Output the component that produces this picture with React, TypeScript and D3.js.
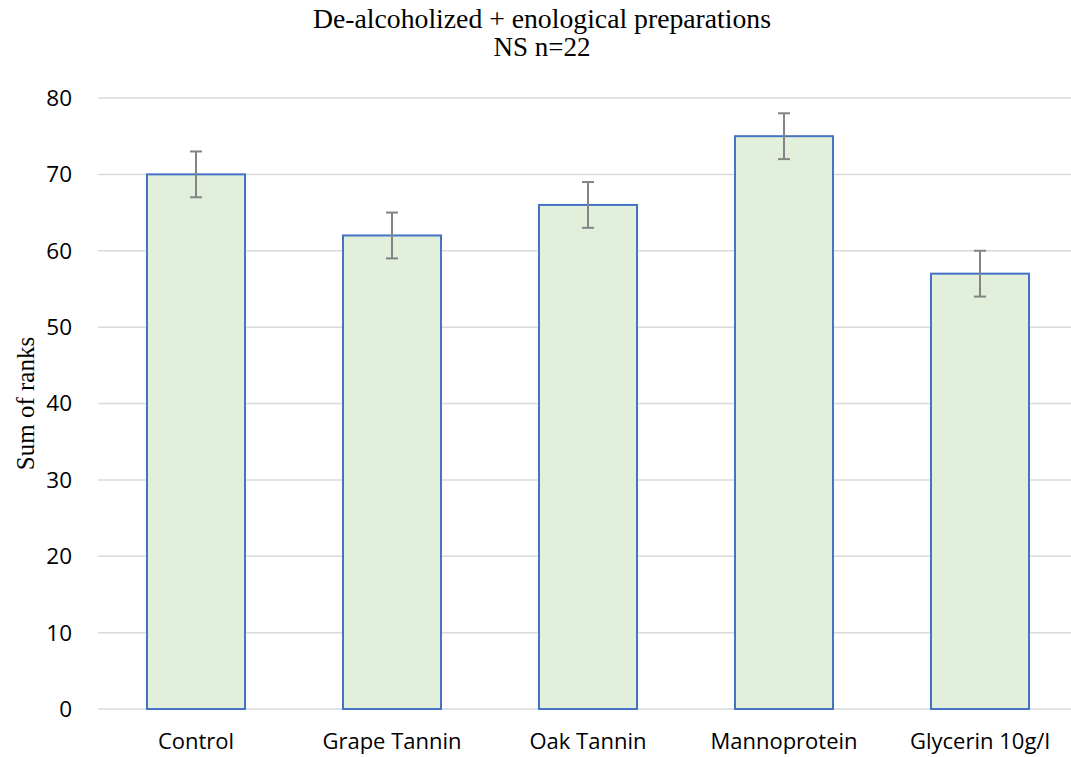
import React from "react";
import * as d3 from "d3";

const categories = ["Control", "Grape Tannin", "Oak Tannin", "Mannoprotein", "Glycerin 10g/l"];
const values = [70, 62, 66, 75, 57];
const errors = [3, 3, 3, 3, 3];
const yTicks = [0, 10, 20, 30, 40, 50, 60, 70, 80];
const titleLines = ["De-alcoholized + enological preparations", "NS n=22"];
const yLabel = "Sum of ranks";

export default function App() {
  const W = 1071, H = 757;
  const left = 98, right = 1078, top = 98, bottom = 709;
  const x = d3.scaleBand<string>().domain(categories).range([left, right]).paddingInner(0.5).paddingOuter(0.25);
  const y = d3.scaleLinear().domain([0, 80]).range([bottom, top]);
  const bw = x.bandwidth();
  return (
    <svg width={W} height={H} style={{ position: "absolute", left: 0, top: 0 }}>
      <rect width={W} height={H} fill="#fff" />
      {titleLines.map((t, i) => (
        <text key={i} x={542} y={28 + i * 28} textAnchor="middle" fontFamily="Liberation Serif, Times New Roman, serif" fontSize={27} textLength={i === 0 ? 458 : undefined} lengthAdjust="spacingAndGlyphs" fill="#000">{t}</text>
      ))}
      {yTicks.map((t) => (
        <g key={t}>
          <line x1={left} x2={right} y1={y(t)} y2={y(t)} stroke="#D9D9D9" strokeWidth={1.5} />
          <text x={72} y={y(t)} dy="0.35em" textAnchor="end" fontFamily="Open Sans, sans-serif" fontSize={22.5} fill="#000">{t}</text>
        </g>
      ))}
      <text transform={`translate(34,${(top + bottom) / 2}) rotate(-90)`} textAnchor="middle" fontFamily="Liberation Serif, Times New Roman, serif" fontSize={25} fill="#000">{yLabel}</text>
      {categories.map((c, i) => {
        const x0 = x(c)!;
        const cx = x0 + bw / 2;
        return (
          <g key={c}>
            <rect x={x0} y={y(values[i])} width={bw} height={y(0) - y(values[i])} fill="#E2EFDA" stroke="#4472C4" strokeWidth={2} />
            <line x1={cx} x2={cx} y1={y(values[i] + errors[i])} y2={y(values[i] - errors[i])} stroke="#848484" strokeWidth={2} />
            <line x1={cx - 6} x2={cx + 6} y1={y(values[i] + errors[i])} y2={y(values[i] + errors[i])} stroke="#848484" strokeWidth={2} />
            <line x1={cx - 6} x2={cx + 6} y1={y(values[i] - errors[i])} y2={y(values[i] - errors[i])} stroke="#848484" strokeWidth={2} />
            <text x={cx} y={749} textAnchor="middle" fontFamily="Open Sans, sans-serif" fontSize={22} fill="#000">{c}</text>
          </g>
        );
      })}
    </svg>
  );
}
